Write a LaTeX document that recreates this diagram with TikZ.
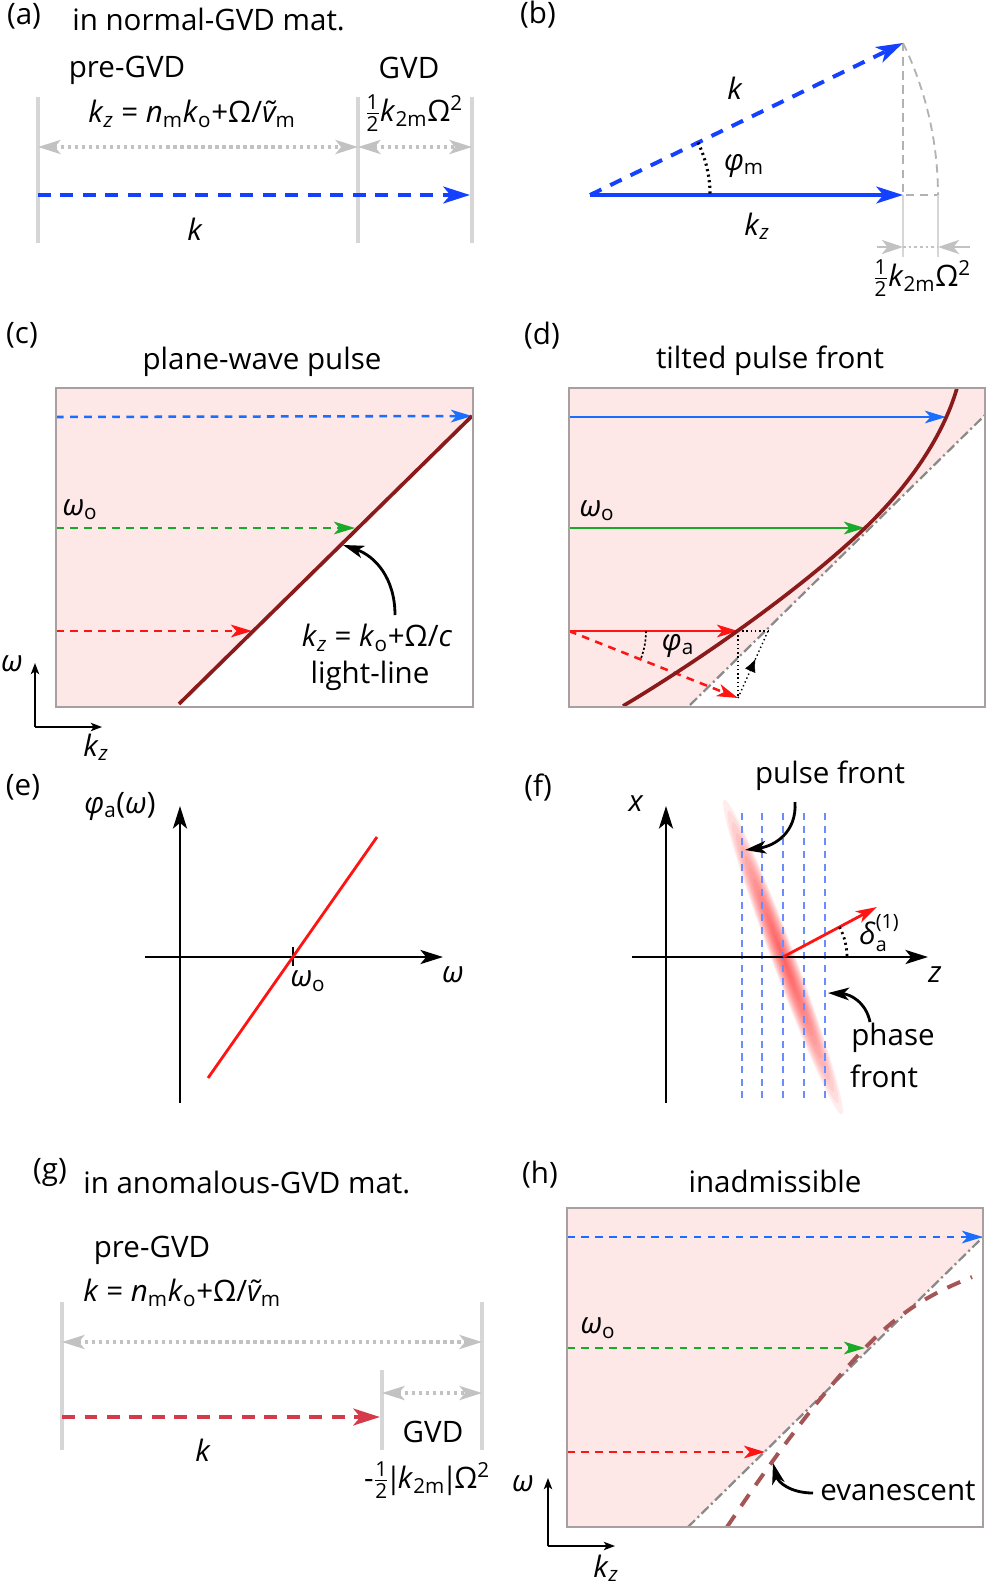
\documentclass[tikz,border=0pt]{standalone}
\usepackage{fontspec}
\setmainfont{Open Sans}
\usepackage{amsmath}
\usepackage{tikz}
\usetikzlibrary{positioning}
\usetikzlibrary{arrows.meta, calc}

\definecolor{barg}{HTML}{D6D6D6}
\definecolor{arrg}{HTML}{C2C2C2}
\definecolor{kblue}{HTML}{1440FF}
\definecolor{lblue}{HTML}{1A6EFF}
\definecolor{lgreen}{HTML}{18AA28}
\definecolor{lred}{HTML}{FF1414}
\definecolor{dred}{HTML}{8B1A1A}
\definecolor{pinkbg}{HTML}{FDE7E7}
\definecolor{boxg}{HTML}{A8A0A0}
\definecolor{crim}{HTML}{D43A4A}
\definecolor{brn}{HTML}{A55555}
\definecolor{fblue}{HTML}{6B8CFF}
\definecolor{llg}{HTML}{8A8A8A}

\newcommand{\iv}[1]{\textit{#1}}
\newcommand{\dn}[1]{\textsubscript{#1}}
\newcommand{\up}[1]{\textsuperscript{#1}}
\newcommand{\half}{$\frac{\text{1}}{\text{2}}$}
\newcommand{\vbar}{\kern-0.12em|\kern-0.12em}

\tikzset{
	bar/.style={draw=barg, line width=3.5pt},
	thinbar/.style={draw=barg, line width=2pt},
	gdots/.style={draw=arrg, line width=2.5pt, dash pattern=on 2.5pt off 2.5pt},
	gdarr/.style={{Stealth[length=16pt, width=10pt, inset=4pt]}-{Stealth[length=16pt, width=10pt, inset=4pt]}},
	bigarr/.style={-{Stealth[length=19pt, width=12pt, inset=5pt]}},
	midarr/.style={-{Stealth[length=15pt, width=9pt, inset=4pt]}},
	axarr/.style={-{Stealth[length=16pt, width=10pt, inset=4pt]}},
	smallarr/.style={-{Stealth[length=8pt, width=6pt, inset=2pt]}},
	fatdash/.style={line width=2.8pt, dash pattern=on 9pt off 7pt},
	thindash/.style={line width=1.8pt, dash pattern=on 5.5pt off 4.5pt},
	dashdot/.style={draw=llg, line width=1.6pt, dash pattern=on 7pt off 2.5pt on 1.5pt off 2.5pt},
	box/.style={draw=boxg, line width=1.4pt},
}

\begin{document}
\begin{tikzpicture}[x=0.025cm, y=0.025cm, font=\fontsize{21}{25}\selectfont, inner sep=0pt]
	\useasboundingbox (0,0) rectangle (986,-1585);

	% (a) normal GVD
	\node (lbl_a) at (24,-16) {(a)};
	\node (ttl_a) [anchor=west] at (72,-19) {in normal-GVD mat.};
	\node (pre_a) at (127,-70) {pre-GVD};
	\node (gvd_a) at (409,-68) {GVD};
	\node (eq_a) at (192,-114) {\iv{k}\dn{\iv{z}} = \iv{n}\dn{m}\iv{k}\dn{o}+Ω/\iv{\~{v}}\dn{m}};
	\node (dk_a) at (414,-113) {\half\iv{k}\dn{2m}Ω\up{2}};
	\node (k_a) at (195,-229) {\iv{k}};

	\foreach \x in {38,358,472}
		\path[draw, bar] (\x,-97) -- (\x,-243);
	\coordinate (a_l) at (38,-147);
	\coordinate (a_m) at (358,-147);
	\coordinate (a_r) at (472,-147);
	\path[draw, gdots, gdarr] (a_l) -- (a_m);
	\path[draw, gdots, gdarr] (a_m) -- (a_r);
	\coordinate (ak_l) at (38,-195);
	\coordinate (ak_r) at (470,-195);
	\path[draw, kblue, fatdash, bigarr] (ak_l) -- (ak_r);

	% (b) projection of k
	\node (lbl_b) at (538,-15) {(b)};
	\coordinate (b_o) at (590,-195);
	\coordinate (b_kz) at (903,-195);
	\coordinate (b_k) at (903,-43);
	\coordinate (b_r) at (938,-195);
	\path[draw, gray!60, line width=1.3pt, dash pattern=on 6pt off 4pt] (b_k) -- (b_kz) -- (b_r);
	\path[draw, gray!60, line width=1.3pt, dash pattern=on 6pt off 4pt] (b_k) arc[start angle=25.9, end angle=0, radius=8.7cm];
	\path[draw, thinbar] (b_kz) -- (903,-257);
	\path[draw, thinbar] (b_r) -- (938,-257);
	\coordinate (b_dl) at (903,-247);
	\coordinate (b_dr) at (938,-247);
	\path[draw, arrg, line width=2pt, dash pattern=on 2pt off 2pt] (b_dl) -- (b_dr);
	\path[draw, arrg, line width=2pt, {Stealth[length=15pt, width=10pt, inset=4pt]}-] (b_dl) -- ++(-26,0);
	\path[draw, arrg, line width=2pt, {Stealth[length=15pt, width=10pt, inset=4pt]}-] (b_dr) -- ++(32,0);
	\path[draw, kblue, line width=2.4pt, bigarr] (b_o) -- (b_kz);
	\path[draw, kblue, line width=2.8pt, dash pattern=on 9pt off 7pt, bigarr] (b_o) -- (b_k);
	\path[draw, line width=2.2pt, dash pattern=on 1.5pt off 2.5pt] (698,-142.6) arc[start angle=25.9, end angle=0, radius=3cm];
	\node (k_b) at (735,-88) {\iv{k}};
	\node (phi_b) at (744,-166) {\iv{φ}\dn{m}};
	\node (kz_b) at (757,-226) {\iv{k}\dn{\iv{z}}};
	\node (dk_b) at (922,-278) {\half\iv{k}\dn{2m}Ω\up{2}};

	% (c) plane-wave pulse
	\node (lbl_c) at (22,-335) {(c)};
	\node (ttl_c) at (262,-362) {plane-wave pulse};
	\coordinate (c_ll1) at (179,-704);
	\coordinate (c_ll2) at (472,-416);
	\path[fill=pinkbg] (56,-388) -- (473,-388) -- (473,-416) -- (c_ll2) -- (c_ll1) -- (179,-707) -- (56,-707) -- cycle;
	\path[draw, lblue, thindash, midarr] (56,-417) -- (c_ll2);
	\path[draw, lgreen, thindash, midarr] (56,-528) -- (355,-528);
	\path[draw, lred, thindash, midarr] (56,-631) -- (252,-631);
	\path[draw, dred, line width=2.6pt] (c_ll1) -- (c_ll2);
	\path[draw, box] (56,-388) rectangle (473,-707);
	\node (w0_c) at (80,-510) {\iv{ω}\dn{o}};
	\node (eq_c) at (377,-638) {\iv{k}\dn{\iv{z}} = \iv{k}\dn{o}+Ω/\iv{c}};
	\node (ll_c) at (370,-676) {light-line};
	\coordinate (c_a1) at (395,-615);
	\coordinate (c_a2) at (343,-545);
	\path[draw, line width=2pt, midarr] (c_a1) .. controls (395,-578) and (375,-556) .. (c_a2);
	\coordinate (c_ax) at (35,-727);
	\path[draw, line width=1pt, smallarr] (c_ax) -- (35,-663);
	\path[draw, line width=1pt, smallarr] (c_ax) -- (102,-727);
	\node (w_c) at (12,-664) {\iv{ω}};
	\node (kz_c) at (96,-747) {\iv{k}\dn{\iv{z}}};

	% (d) tilted pulse front
	\node (lbl_d) at (542,-336) {(d)};
	\node (ttl_d) at (770,-361) {tilted pulse front};
	\coordinate (d_ll1) at (690,-705);
	\coordinate (d_ll2) at (985,-415);
	\path[fill=pinkbg] (569,-388) -- (985,-388) -- (d_ll2) -- (d_ll1) -- (690,-707) -- (569,-707) -- cycle;
	\path[draw, dashdot] (d_ll1) -- (d_ll2);
	\coordinate (d_r) at (738,-631);
	\coordinate (d_g) at (865,-528);
	\coordinate (d_rd) at (738,-698);
	\coordinate (d_rc) at (768,-631);
	\path[draw, lblue, line width=1.8pt, midarr] (569,-417) -- (946,-417);
	\path[draw, lgreen, line width=1.8pt, midarr] (569,-528) -- (d_g);
	\path[draw, lred, line width=1.8pt, midarr] (569,-631) -- (d_r);
	\path[draw, lred, thindash, midarr] (569,-631) -- (d_rd);
	\path[draw, dotted, line width=1pt] (d_r) -- (d_rc);
	\path[draw, dotted, line width=1pt] (d_r) -- (d_rd);
	\path[draw, dotted, line width=1pt] (d_rd) -- (d_rc);
	\path[draw, -{Latex[length=9pt, width=8pt]}] ($(d_rd)!0.45!(d_rc)$) -- ($(d_rd)!0.58!(d_rc)$);
	\path[draw, line width=1.2pt, dash pattern=on 1.5pt off 1.5pt] (646,-631) arc[start angle=0, end angle=-21.6, radius=1.925cm];
	\path[draw, dred, line width=2.6pt] (623,-706) .. controls (700,-660) and (800,-590) .. (d_g) .. controls (915,-480) and (945,-430) .. (957,-388);
	\path[draw, box] (569,-388) rectangle (985,-707);
	\node (w0_d) at (597,-511) {\iv{ω}\dn{o}};
	\node (phi_d) at (678,-646) {\iv{φ}\dn{a}};

	% (e) phase slope
	\node (lbl_e) at (23,-787) {(e)};
	\node (phi_e) at (120,-806) {\iv{φ}\dn{a}(\iv{ω})};
	\coordinate (e_o) at (180,-957);
	\path[draw, line width=2pt, axarr] (180,-1103) -- (180,-806);
	\path[draw, line width=2pt, axarr] (145,-957) -- (443,-957);
	\path[draw, line width=2pt] (293,-947) -- (293,-966);
	\coordinate (e_r1) at (208,-1078);
	\coordinate (e_r2) at (377,-837);
	\path[draw, lred, line width=2pt] (e_r1) -- (e_r2);
	\node (w0_e) at (308,-981) {\iv{ω}\dn{o}};
	\node (w_e) at (453,-975) {\iv{ω}};

	% (f) pulse front vs phase front
	\node (lbl_f) at (538,-788) {(f)};
	\foreach \i in {1,...,14}
		\path[fill=lred, opacity=0.075, rotate around={110.5:(783,-957)}] (783,-957) ellipse [x radius=\i*0.3cm, y radius=\i*0.021cm];
	\foreach \x in {742,762,783,804,825}
		\path[draw, fblue, line width=1.5pt, dash pattern=on 5pt off 4pt] (\x,-813) -- (\x,-1103);
	\path[draw, line width=2pt, axarr] (666,-1103) -- (666,-806);
	\path[draw, line width=2pt, axarr] (632,-957) -- (928,-957);
	\coordinate (f_o) at (783,-957);
	\coordinate (f_d) at (877,-907);
	\path[draw, lred, line width=2pt, midarr] (f_o) -- (f_d);
	\path[draw, line width=2pt, dash pattern=on 1.5pt off 2.5pt] (839.5,-927) arc[start angle=28, end angle=0, radius=1.6cm];
	\node (x_f) at (636,-804) {\iv{x}};
	\node (z_f) at (935,-975) {\iv{z}};
	\node (dl_f) at (879,-933) {\iv{δ}\raisebox{-0.25em}{\makebox[0pt][l]{\fontsize{14}{14}\selectfont a}}\raisebox{0.55em}{\fontsize{14}{14}\selectfont (1)}};
	\node (pf_f) at (830,-776) {pulse front};
	\node (ph_f) at (893,-1038) {phase};
	\node (fr_f) at (884,-1076) {front};
	\coordinate (f_p1) at (795,-802);
	\coordinate (f_p2) at (745,-850);
	\path[draw, line width=2pt, midarr] (f_p1) .. controls (797,-832) and (775,-846) .. (f_p2);
	\coordinate (f_h1) at (870,-1022);
	\coordinate (f_h2) at (828,-993);
	\path[draw, line width=2pt, midarr] (f_h1) .. controls (866,-1002) and (850,-994) .. (f_h2);

	% (g) anomalous GVD
	\node (lbl_g) at (50,-1172) {(g)};
	\node (ttl_g) [anchor=west] at (83,-1182) {in anomalous-GVD mat.};
	\node (pre_g) at (152,-1250) {pre-GVD};
	\node (eq_g) at (182,-1293) {\iv{k} = \iv{n}\dn{m}\iv{k}\dn{o}+Ω/\iv{\~{v}}\dn{m}};
	\path[draw, bar] (62,-1302) -- (62,-1450);
	\path[draw, bar] (482,-1302) -- (482,-1450);
	\path[draw, bar] (382,-1370) -- (382,-1450);
	\coordinate (g_l) at (62,-1342);
	\coordinate (g_r) at (482,-1342);
	\coordinate (g_ml) at (382,-1393);
	\coordinate (g_mr) at (482,-1393);
	\path[draw, gdots, gdarr] (g_l) -- (g_r);
	\path[draw, gdots, gdarr] (g_ml) -- (g_mr);
	\coordinate (gk_l) at (62,-1417);
	\coordinate (gk_r) at (380,-1417);
	\path[draw, crim, fatdash, bigarr] (gk_l) -- (gk_r);
	\node (k_g) at (203,-1450) {\iv{k}};
	\node (gvd_g) at (433,-1432) {GVD};
	\node (dk_g) at (427,-1480) {-\half\vbar\iv{k}\dn{2m}\vbar Ω\up{2}};

	% (h) inadmissible
	\node (lbl_h) at (540,-1175) {(h)};
	\node (ttl_h) at (775,-1181) {inadmissible};
	\coordinate (h_ll1) at (688,-1527);
	\coordinate (h_ll2) at (983,-1237);
	\path[fill=pinkbg] (567,-1208) -- (983,-1208) -- (h_ll2) -- (h_ll1) -- (567,-1527) -- cycle;
	\path[draw, dashdot] (h_ll1) -- (h_ll2);
	\coordinate (h_g) at (865,-1348);
	\path[draw, brn, line width=2.8pt, dash pattern=on 10pt off 8pt] (727,-1527) .. controls (775,-1455) and (820,-1395) .. (h_g) .. controls (905,-1306) and (940,-1290) .. (972,-1277);
	\path[draw, lblue, thindash, midarr] (567,-1237) -- (h_ll2);
	\path[draw, lgreen, thindash, midarr] (567,-1348) -- (h_g);
	\path[draw, lred, thindash, midarr] (567,-1452) -- (765,-1452);
	\path[draw, box] (567,-1208) rectangle (983,-1527);
	\node (w0_h) at (598,-1328) {\iv{ω}\dn{o}};
	\node (ev_h) at (898,-1491) {evanescent};
	\coordinate (h_a1) at (813,-1493);
	\coordinate (h_a2) at (773,-1463);
	\path[draw, line width=2pt, midarr] (h_a1) .. controls (790,-1493) and (778,-1482) .. (h_a2);
	\coordinate (h_ax) at (548,-1546);
	\path[draw, line width=1pt, smallarr] (h_ax) -- (548,-1478);
	\path[draw, line width=1pt, smallarr] (h_ax) -- (615,-1546);
	\node (w_h) at (523,-1484) {\iv{ω}};
	\node (kz_h) at (606,-1568) {\iv{k}\dn{\iv{z}}};

\end{tikzpicture}
\end{document}
